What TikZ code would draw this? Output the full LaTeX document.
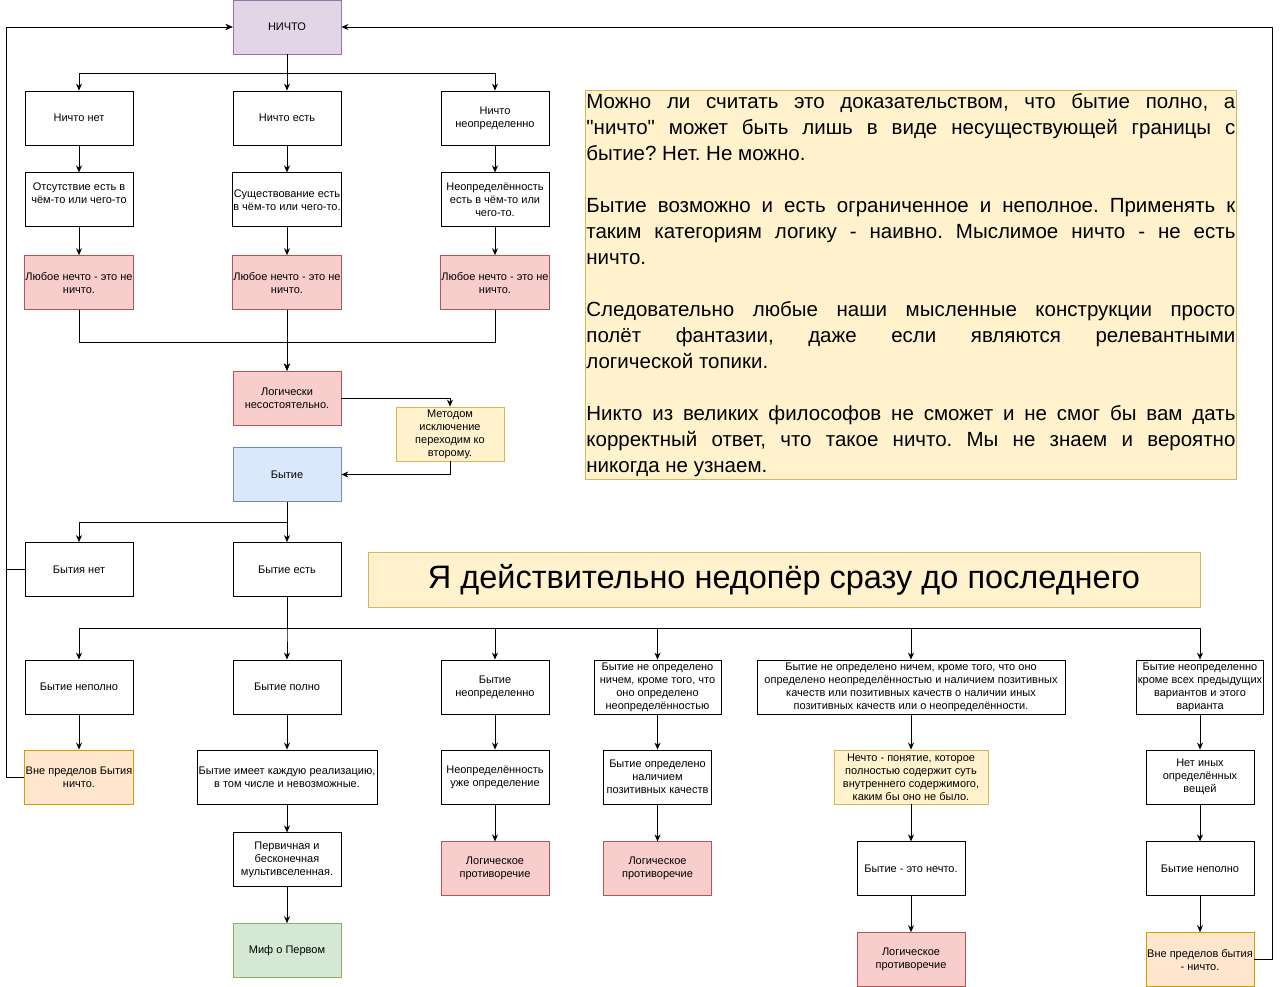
\documentclass[tikz,border=0pt]{standalone}
\usepackage{fontspec}
\setmainfont{Liberation Sans}[Ligatures=TeXOff]
\usepackage{xcolor}
\usepackage{tikz}
\usetikzlibrary{arrows.meta, positioning}
\definecolor{purpleD}{HTML}{9673A6}
\definecolor{purpleL}{HTML}{E1D5E7}
\definecolor{redD}{HTML}{B85450}
\definecolor{redL}{HTML}{F8CECC}
\definecolor{yellowD}{HTML}{D6B656}
\definecolor{yellowL}{HTML}{FFF2CC}
\definecolor{blueD}{HTML}{6C8EBF}
\definecolor{blueL}{HTML}{DAE8FC}
\definecolor{greenD}{HTML}{82B366}
\definecolor{greenL}{HTML}{D5E8D4}
\definecolor{orangeD}{HTML}{D79B00}
\definecolor{orangeL}{HTML}{FFE6CC}
\setlength{\parindent}{0pt}
\tolerance=9999
\hyphenpenalty=10000
\frenchspacing

\begin{document}
\begin{tikzpicture}[
  x=1pt, y=-1pt,
  font=\fontsize{11}{13}\selectfont,
  box/.style={rectangle, draw=black, fill=white, line width=0.8pt,
              minimum width=108pt, minimum height=54pt, align=center, inner sep=1pt},
  nothing/.style={box, draw=purpleD, fill=purpleL},
  contra/.style={box, draw=redD, fill=redL},
  note/.style={box, draw=yellowD, fill=yellowL},
  being/.style={box, draw=blueD, fill=blueL},
  myth/.style={box, draw=greenD, fill=greenL},
  beyond/.style={box, draw=orangeD, fill=orangeL},
  arr/.style={-{Stealth[length=7pt, width=6pt]}, line width=0.9pt}]

  \path[fill=white] (0,0) rectangle (1280,986);
  \useasboundingbox (0,0) rectangle (1280,986);

  % nothing branch
  \node[nothing] (nichto) at (287,27) {НИЧТО};
  \node[box] (nnet) at (79,118) {Ничто нет};
  \node[box] (nest) at (287,118) {Ничто есть};
  \node[box] (nneopr) at (495,118) {Ничто\\неопределенно};
  \node[box, below=27pt of nnet] (otsut) {Отсутствие есть в\\чём-то или чего-то\\\mbox{}};
  \node[box, below=27pt of nest] (sush) {Существование есть\\в чём-то или чего-то.};
  \node[box, below=27pt of nneopr] (neopr) {Неопределённость\\есть в чём-то или\\чего-то.};
  \node[contra, below=28pt of otsut] (lyubA) {Любое нечто - это не\\ничто.};
  \node[contra, below=28pt of sush] (lyubB) {Любое нечто - это не\\ничто.};
  \node[contra, below=28pt of neopr] (lyubC) {Любое нечто - это не\\ничто.};
  \node[contra] (logich) at (287,398) {Логически\\несостоятельно.};
  \node[note] (metod) at (450,434) {Методом\\исключение\\переходим ко\\второму.};
  \node[being] (bytie) at (287,474.5) {Бытие};

  \draw[arr] (nichto.south) -- ++(0,19) -| (nnet.north);
  \draw[arr] (nichto) -- (nest);
  \draw[arr] (nichto.south) -- ++(0,19) -| (nneopr.north);
  \draw[arr] (nnet) -- (otsut);
  \draw[arr] (nest) -- (sush);
  \draw[arr] (nneopr) -- (neopr);
  \draw[arr] (otsut) -- (lyubA);
  \draw[arr] (sush) -- (lyubB);
  \draw[arr] (neopr) -- (lyubC);
  \draw[arr] (lyubA.south) -- ++(0,32) -| (logich.north);
  \draw[arr] (lyubB) -- (logich);
  \draw[arr] (lyubC.south) -- ++(0,32) -| (logich.north);
  \draw[arr] (logich.east) -| (metod.north);
  \draw[arr] (metod.south) |- (bytie.east);

  % being branch
  \node[box] (bnet) at (79,569.5) {Бытия нет};
  \node[box] (best) at (287,569.5) {Бытие есть};
  \draw[arr] (bytie.south) -- ++(0,21) -| (bnet.north);
  \draw[arr] (bytie) -- (best);

  \node[box] (bnepol) at (79,687) {Бытие неполно};
  \node[box] (bpol) at (287,687) {Бытие полно};
  \node[box] (bneopr) at (495,687) {Бытие\\неопределенно};
  \node[box, minimum width=127pt] (bnichem) at (657.5,687) {Бытие не определено\\ничем, кроме того, что\\оно определено\\неопределённостью};
  \node[box, minimum width=308pt] (bpozit) at (911,687) {Бытие не определено ничем, кроме того, что оно\\определено неопределённостью и наличием позитивных\\качеств или позитивных качеств о наличии иных\\позитивных качеств или о неопределённости.};
  \node[box, minimum width=126pt] (bkrome) at (1200,687) {Бытие неопределенно\\кроме всех предыдущих\\вариантов и этого\\варианта};

  \foreach \n in {bnepol, bpol, bneopr, bnichem, bpozit, bkrome}
    \draw[arr] (best.south) -- ++(0,32) -| (\n.north);

  \node[beyond] (vneA) at (79,777) {Вне пределов Бытия\\ничто.};
  \node[box, minimum width=180pt] (realiz) at (287,777) {Бытие имеет каждую реализацию,\\в том числе и невозможные.};
  \node[box] (uzhe) at (495,777) {Неопределённость\\уже определение};
  \node[box] (nalich) at (657.5,777) {Бытие определено\\наличием\\позитивных качеств};
  \node[note, minimum width=154pt] (nechto) at (911,777) {Нечто - понятие, которое\\полностью содержит суть\\внутреннего содержимого,\\каким бы оно не было.};
  \node[box] (netin) at (1200,777) {Нет иных\\определённых\\вещей};

  \node[box, below=28pt of realiz] (perv) {Первичная и\\бесконечная\\мультивселенная.};
  \node[myth, below=36pt of perv] (mif) {Миф о Первом};
  \node[contra, below=37pt of uzhe] (protA) {Логическое\\противоречие};
  \node[contra, below=37pt of nalich] (protB) {Логическое\\противоречие};
  \node[box, below=37pt of nechto] (bnechto) {Бытие - это нечто.};
  \node[contra, below=36pt of bnechto] (protC) {Логическое\\противоречие};
  \node[box, below=37pt of netin] (bnepolB) {Бытие неполно};
  \node[beyond, below=36pt of bnepolB] (vneB) {Вне пределов бытия\\- ничто.};

  \draw[arr] (bnepol) -- (vneA);
  \draw[arr] (bpol) -- (realiz);
  \draw[arr] (realiz) -- (perv);
  \draw[arr] (perv) -- (mif);
  \draw[arr] (bneopr) -- (uzhe);
  \draw[arr] (uzhe) -- (protA);
  \draw[arr] (bnichem) -- (nalich);
  \draw[arr] (nalich) -- (protB);
  \draw[arr] (bpozit) -- (nechto);
  \draw[arr] (nechto) -- (bnechto);
  \draw[arr] (bnechto) -- (protC);
  \draw[arr] (bkrome) -- (netin);
  \draw[arr] (netin) -- (bnepolB);
  \draw[arr] (bnepolB) -- (vneB);

  % back to nothing
  \draw[arr] (bnet.west) -- ++(-18,0) |- (nichto.west);
  \draw[arr] (vneA.west) -- ++(-18,0) |- (nichto.west);
  \draw[arr] (vneB.east) -- ++(18,0) |- (nichto.east);

  % commentary
  \node[note, anchor=north west, minimum width=651pt, minimum height=389pt,
        text width=649pt, inner sep=1pt, align=justify,
        font=\fontsize{20.5}{26}\selectfont] (comment) at (585,90)
    {Можно ли считать это доказательством, что бытие полно, а\linebreak
     "ничто" может быть лишь в виде несуществующей границы с\linebreak
     бытие? Нет. Не можно.\par\vspace{26pt}
     Бытие возможно и есть ограниченное и неполное. Применять к\linebreak
     таким категориям логику - наивно. Мыслимое ничто - не есть\linebreak
     ничто.\par\vspace{26pt}
     Следовательно любые наши мысленные конструкции просто\linebreak
     полёт фантазии, даже если являются релевантными\linebreak
     логической топики.\par\vspace{26pt}
     Никто из великих философов не сможет и не смог бы вам дать\linebreak
     корректный ответ, что такое ничто. Мы не знаем и вероятно\linebreak
     никогда не узнаем.};

  \node[note, minimum width=832pt, minimum height=55pt,
        font=\fontsize{32.5}{38}\selectfont] (title) at (784,580)
    {Я действительно недопёр сразу до последнего};
\end{tikzpicture}
\end{document}
